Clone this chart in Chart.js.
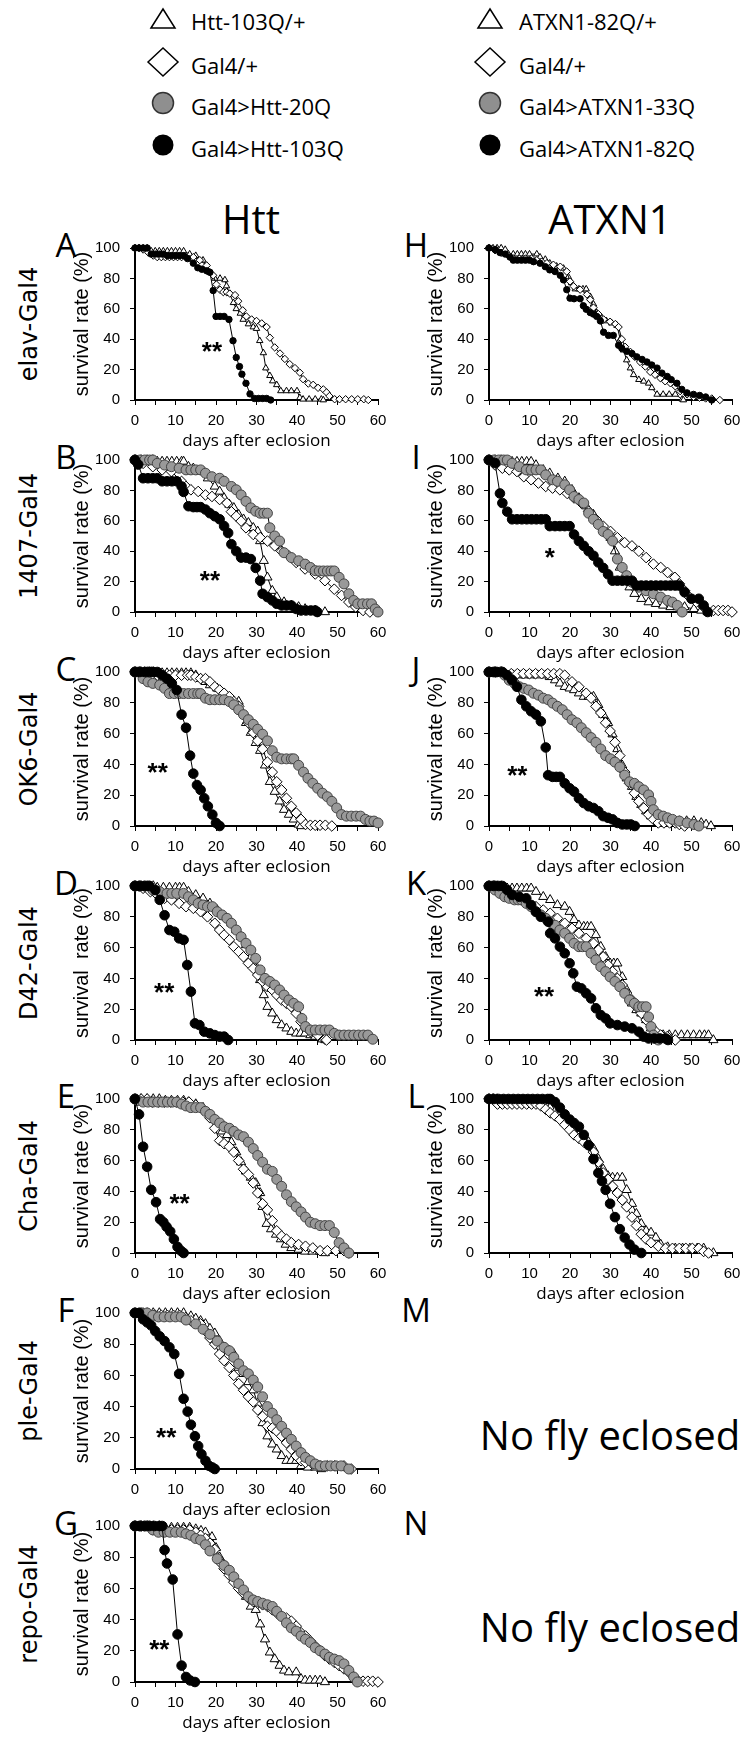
<!DOCTYPE html>
<html>
<head>
<meta charset="utf-8">
<script src="https://cdn.jsdelivr.net/npm/chart.js@4.4.1/dist/chart.umd.min.js"></script>
<style>
  body { margin: 0; background: #fff; }
  #page { position: relative; width: 750px; height: 1737px; overflow: hidden; background: #fff; color: #000; }
  .t { position: absolute; line-height: 1; white-space: pre; }
  canvas { position: absolute; }
  svg { position: absolute; overflow: visible; }
</style>
</head>
<body>
<div id="page"></div>
<script>
// survival data, [day, % alive]
// Htt column (left)
const A_tri = [[0,100],[1,100],[2,100],[3,100],[4,98],[5,98],[6,98],[7,98],[8,98],[9,98],[10,98],[11,98],[12,98],[13.5,96],[15,95],[16.8,92],[18.5,84],[19.7,80],[21,80],[22.2,79],[22.6,75],[23.4,70],[24.3,64],[25,60],[26,57],[26.7,53],[28,50],[29.2,48],[30,47],[30.8,39],[31.7,31],[32.3,21],[33.3,16],[34,12.5],[35,10],[36,6],[37.4,6],[38.6,6],[40,6],[40.7,1.5],[41.5,0.5],[43,0.5],[44.5,0.5],[46,0.5],[46.5,0]];
const A_dia = [[0,100],[1,100],[2,99],[3.3,97],[4.5,95],[5.5,94],[6.5,94],[7.5,94],[8.5,94],[9.5,94],[10.5,94],[11.5,94],[12.5,94],[14.4,94],[16,92],[17.7,88.5],[19.3,82],[20.1,76],[21,72.5],[21.8,71],[22.6,71],[23.4,70],[24.7,69],[25.5,65],[26.6,59],[27.5,55],[28.8,53],[30,52],[31.3,50.4],[32.5,48],[33.3,41],[34.5,34.6],[35.8,30.6],[37,27],[38.2,23.6],[39.5,21],[40.7,18],[41.5,13.7],[42.8,10.8],[44,10],[45.2,8],[46.5,7],[47.3,5],[48,2.6],[49.3,0.5],[50.5,0.5],[52,0.5],[53.5,0.5],[55,0.5],[56.5,0.5],[57.6,0]];
const A_black = [[0,100],[1,100],[2,100],[3,100],[4,96],[5,96],[6,96],[7,96],[8,95],[9,95],[10,95],[11,95],[12,95],[13,93],[14.4,90],[15.5,87],[16.5,86],[17.7,85],[18.5,84],[19.3,72],[20,55],[21,55],[22,55],[23.2,53],[24.2,39],[25,28],[25.8,22],[26.4,17],[27.4,11],[28.4,4],[29.5,1],[30.5,1],[31.5,1],[32.5,1],[33.5,0]];

const B_tri = [[0,100],[1.5,100],[3,100],[4.4,100],[5.5,99],[6.7,99],[7.9,99],[9.1,99],[10.3,99],[11.5,99],[12,99],[13.2,95.6],[14.4,94.5],[16.2,92.4],[18,88],[19.7,82.6],[20.9,79.3],[22,75],[23.3,70.7],[24.4,68.5],[25.6,64],[26.8,61],[28,58.7],[29.2,55.4],[30.3,53],[30.9,46.7],[31.8,33.7],[32.7,22.8],[33.9,14],[35,9.8],[36.8,6.5],[38.6,4.3],[40.4,3.3],[42,2],[44.5,1],[46.9,0]];
const B_dia = [[0,100],[2,97.8],[4.4,95.6],[6.7,93.5],[9,92.4],[11.5,85.9],[12.6,82.6],[13.8,80.4],[15.6,79.3],[17.4,77],[19,76],[20.9,74],[22.7,71.7],[23.8,66],[25,63],[26.2,59.8],[27.4,55.4],[29.2,51],[30.9,49],[32.7,46.7],[34.5,43.5],[36.2,40],[38,37],[39.8,32.6],[42,28.3],[44.5,25],[46.9,20.6],[49.2,15],[51,10.9],[52.8,6.5],[54.5,3.3],[56.3,1],[58,0]];
const B_gray = [[0,100],[1.2,100],[2.4,100],[3.6,100],[4.4,100],[5.5,97.8],[7.3,96.7],[9,95.6],[10.9,94.6],[12.6,93.5],[13.8,93.5],[15,93.5],[16.2,93.5],[17.4,91.3],[19,89],[20.9,88],[22,86],[23.8,82.6],[25,80.4],[26.2,77],[27.4,72.8],[28.6,68.5],[29.8,66.3],[30.9,65],[31.8,65],[32.7,65],[33.3,55.4],[34.5,50],[35.7,46.7],[36.8,39],[38.6,35.8],[40.4,33.7],[42,31.5],[43.3,29.3],[44.5,27.2],[45.5,27],[46.5,27],[47.5,27],[48.4,27],[49.2,27],[50.4,22.8],[51.6,18.5],[52.8,12],[54,7.6],[55,5.4],[56.2,5.4],[57.4,5.4],[58.4,5.4],[59.3,2],[60,0]];
const B_black = [[0,100],[0.8,97],[2,88],[3.2,88],[4.4,88],[5.5,88],[6.7,86],[7.9,86],[9.1,86],[10.3,86],[11.5,82.6],[12,79],[13.2,69.6],[14.4,69],[15.3,69],[16.2,69],[17.4,67.4],[18.5,65],[19.7,63],[20.9,61],[22,56.5],[23,52],[23.8,44.6],[25,40],[26.2,35.8],[27.4,35.8],[28.6,34.8],[29.8,29],[30.9,20.6],[31.5,12],[32.7,9.8],[33.9,7.6],[35,5.4],[36.2,4.3],[37.4,4.3],[38.6,4.3],[39.8,2],[41,1],[42.2,1],[43.4,1],[44.5,1],[45,0]];

const C_tri = [[0,100],[1.2,100],[2.4,100],[3.5,100],[4.5,100],[5.5,99.3],[6.7,99.3],[7.9,99.3],[9.1,99.3],[10.3,99.3],[11.5,99.3],[12.6,99.3],[13.8,99.3],[15,97.9],[16.2,95.7],[17.4,93.6],[18.5,91.5],[20.3,89.4],[21.5,86],[22.7,80.8],[23.6,80.8],[24.4,80.8],[25.6,80.8],[26.2,74.5],[27.4,67],[28.6,60.6],[29.8,54],[30.9,48.9],[32.1,39.4],[33.3,28.7],[34.5,22.3],[35.7,16],[36.8,10.6],[38,7.4],[39.2,4.3],[40.4,1],[41,0]];
const C_dia = [[0,100],[1.5,100],[3,100],[4,100],[5.5,97.9],[7,97.9],[8.5,97.9],[10,97.9],[11.5,97.9],[13,97.9],[13.8,97.9],[15,96.8],[16.2,95.7],[17.4,95.7],[18.5,93.6],[19.7,90.4],[20.9,88.3],[22,86.2],[23.3,84],[24.4,80.8],[25.6,77.7],[26.8,72.3],[28,67],[29.2,60.6],[30.3,55.3],[31.5,50],[32.7,41.5],[33.9,35],[35,28.7],[36.2,23.4],[37.4,18],[38.6,12.8],[39.8,8.5],[41,4.3],[42.1,1],[43.3,0.5],[44.5,0.5],[45.7,0.5],[47,0.5],[48.6,0]];
const C_gray = [[0,100],[1,100],[2,95.7],[3.2,93.6],[4.4,92.6],[6.1,91.5],[7.3,89.4],[8.5,86],[9.7,86],[10.9,86],[12,86],[13.2,86],[14.4,86],[15.5,86],[16.2,86],[17.4,83],[18.5,82],[19.7,82],[20.9,82],[22,82],[23.3,80.8],[24.4,78.7],[25.6,75.5],[26.8,72.3],[28,69],[29.2,66],[30.3,62.8],[31.5,59.6],[32.7,55.3],[33.9,48.9],[35,44.7],[36.2,43.6],[37.4,43.6],[38.6,43.6],[39.2,43.6],[40.4,39.4],[41.6,35],[42.7,31],[43.9,27.7],[45.1,24.5],[46.3,21.3],[47.5,19],[48.6,16],[49.8,11.7],[51,7.4],[52.2,6.4],[53.4,6.4],[54.6,6.4],[55.7,6.4],[56.9,4.3],[58,3.2],[59,3.2],[60,2]];
const C_black = [[0,100],[1.2,100],[2.4,100],[3.5,100],[4.5,100],[5.5,100],[6.7,97.9],[7.9,95.7],[9.1,92.6],[10.3,88.3],[11.5,72.3],[12.6,63.8],[13.6,45.7],[14.4,34],[15.3,26.6],[16.2,23.4],[17.1,18],[18,12.8],[19.1,7.4],[20,2],[20.9,0]];

const D_tri = [[0,100],[1.5,100],[3,100],[4.5,100],[5.5,99],[7,99],[8.5,99],[10,99],[11,99],[12,99],[13.2,96.3],[15,94.2],[16.8,92],[18.5,88.7],[20.3,84.4],[22,80],[23.8,75.8],[25,71.4],[26.2,67],[27.4,61.7],[28.6,54],[29.8,46.5],[30.9,39],[31.8,29.2],[32.7,21.6],[33.9,17.3],[35,13],[36.2,9.7],[37.4,7.6],[38.6,5.4],[39.8,4.3],[40.9,4.3],[42,4.3],[43.3,3.2],[44.5,2.2],[46.3,0.5],[47,0]];
const D_dia = [[0,100],[1,100],[2,98.5],[3.8,96.3],[5.5,94.2],[7.3,92],[9,91],[10.9,88.7],[12.6,86.6],[14.4,85.5],[16.2,83.3],[17.9,80],[19.7,75.8],[20.9,71.4],[22,68.2],[23.3,65],[24.4,60.6],[25.6,57.4],[26.8,54],[28,49.8],[29.2,46.5],[30.3,42.2],[31.5,38],[32.7,34.6],[33.9,32.5],[35,29.2],[36.2,26],[37.4,23.8],[38.6,21.6],[39.8,17.3],[41,11.9],[42.1,8.7],[43.3,5.4],[45.1,3.2],[46.9,0.5],[47.3,0]];
const D_gray = [[0,100],[1.2,100],[2.4,100],[3.5,100],[4.4,97.4],[6.1,96.3],[7.9,95.2],[9.1,95.2],[10.3,95.2],[12,95.2],[13.2,93],[14.4,91],[15.6,88.7],[16.8,87.7],[17.9,86.6],[19.1,86.6],[20.3,83.3],[21.5,81.2],[22.7,79],[23.8,75.8],[25,71.4],[26.2,67],[27.4,62.8],[28.6,58.4],[29.8,53],[30.9,45.5],[32.1,40],[33.3,38],[34.5,35.7],[35.7,32.5],[36.8,29.2],[38,26],[39.2,23.8],[40.4,21.6],[41.2,14],[42.1,8.7],[43.3,6.5],[44.5,6.5],[45.7,6.5],[46.9,6.5],[48,6.5],[49.2,4.3],[50.4,3.2],[51.6,3.2],[52.8,3.2],[54,3.2],[55.2,3.2],[56.4,3.2],[57.5,3.2],[58.7,0.5]];
const D_black = [[0,100],[1.2,100],[2.4,100],[3.5,100],[5,97.4],[6.1,91],[7.3,81],[8.5,71.4],[9.7,70.3],[10.9,66],[12,65],[12.9,48.7],[13.8,31.4],[14.8,10.8],[15.9,9.7],[17.1,5.4],[18.5,4.3],[19.7,3.2],[20.9,2.2],[22,2.2],[23,0]];

const E_tri = [[0,100],[1.5,100],[3,100],[4.5,100],[6,100],[7.5,99],[9,99],[10.5,99],[12,99],[13.2,98],[15,96.7],[16.8,94.4],[18.5,90],[20.3,83.3],[21.5,79],[22.7,76.7],[23.8,72],[25,65.5],[26.2,59],[27.4,53],[28.6,49],[29.8,45.5],[30.9,39],[31.5,30],[32.5,19],[33.6,15.5],[34.8,12],[36,9],[37.2,5.5],[38.6,3.3],[40.4,2.2],[42,1],[43.8,1],[45.7,1],[46.9,0]];
const E_dia = [[0,100],[1.5,100],[3,100],[4.3,98],[5.8,98],[7.3,98],[8.8,98],[10.3,98],[11.8,98],[13.3,98],[15,96],[16.8,93],[18.5,87.8],[19.7,81],[20.9,73],[22,71],[23.3,69],[24.4,65.5],[25.6,60],[26.8,54.4],[28,51],[29.2,45.5],[30.3,39],[31.5,32],[32.7,28],[33.9,21],[35,14.4],[36.2,11],[37.4,9],[38.6,6.7],[40.4,5.5],[42.1,4.4],[43.9,3.3],[45.7,1.5],[47.5,1.5],[49.6,1.5],[51.6,1.5],[52.8,0]];
const E_gray = [[0,100],[0.8,99],[2,98],[3.2,98],[4.4,98],[5.6,98],[6.8,98],[8,98],[9.2,98],[10.3,98],[11.5,96.7],[12.6,95.5],[13.8,94.4],[15,94.4],[16.2,94.4],[17.4,92],[18.5,90],[19.7,86.7],[20.9,84.4],[22,82],[23.3,81],[24.4,79],[25.6,76.7],[26.8,75.5],[28,72],[29.2,67.8],[30.3,63.3],[31.5,59],[32.7,54.4],[33.9,53],[35,47.8],[36.2,43.3],[37.4,37.8],[38.6,33.3],[39.8,30],[41,26.7],[42.1,23.3],[43.3,20],[44.5,19],[45.7,17.8],[46.9,17.8],[48,17.8],[49.2,13.3],[50.4,6.7],[51.6,3.3],[52.8,0]];
const E_black = [[0,100],[1,90],[2,69],[3,56],[4,41],[5.2,33],[6.2,22],[7,20],[7.8,17],[8.7,14],[9.6,9],[10.5,4],[11.3,1.5],[12,0]];

const F_tri = [[0,100],[1.5,100],[3,100],[4.5,100],[6,100],[7.5,100],[9,100],[10.5,100],[12,100],[13.8,98],[15,96.5],[16.2,95],[17.4,93],[18.5,90],[19.7,87],[20.9,82],[22,78],[23.3,76],[24.4,73.7],[25.6,65],[26.8,61],[28,55.8],[29.2,50.5],[30.3,42],[31.5,29.5],[32.7,21],[33.9,15.8],[35,12.6],[36.2,8.4],[37.4,5.3],[38.6,5.3],[39.8,5.3],[41,2],[42.7,1],[44.5,1],[46,0]];
const F_dia = [[0,100],[1,100],[2,100],[3.5,98.5],[5,98.5],[6.5,98.5],[8,98.5],[9.5,98.5],[11,98.5],[12.5,97],[13.8,95],[16.2,93],[17.4,88.4],[18.5,84],[19.7,80],[20.9,73.7],[22,69.5],[23.3,65],[24.4,60],[25.6,54.7],[26.8,50.5],[28,46.3],[29.2,43],[30.3,37.9],[31.5,33.7],[32.7,27.4],[33.9,26.3],[35,24.2],[36.2,21],[37.4,16.8],[38.6,12.6],[39.8,8.4],[41,5.3],[42.1,4.2],[43.9,3.2],[45.7,2],[47.5,2],[49.3,2],[51.6,2],[53.4,0]];
const F_gray = [[0,100],[1.5,100],[3,100],[4.4,98.5],[5.8,97.5],[7.2,97.5],[8.6,97.5],[10,97.5],[11.4,97.5],[12.6,95.5],[15,93],[16.8,89.6],[18.5,86.3],[20.3,82],[22,78],[23.3,75.8],[24.4,71.6],[25.6,67.4],[26.8,63],[28,61],[29.2,57],[30.3,52.6],[31.5,46.3],[32.7,40],[33.9,35.8],[35,31.6],[36.2,27.4],[37.4,23],[38.6,19],[39.8,14.7],[41,10.5],[42.1,7.4],[43.3,5.3],[44.5,3.2],[45.7,2],[47,2],[48.3,2],[49.6,2],[50.9,2],[52.8,0]];
const F_black = [[0,100],[1,100],[2,96],[3,94],[4,92],[5,88.4],[6.1,85],[7.3,82],[8.5,78],[9.7,73.7],[10.9,61],[12,45],[13,36.8],[13.8,28.4],[14.8,21],[15.6,14.7],[16.4,9.5],[17.4,5.3],[18.3,2],[19.1,1],[19.7,0]];

const G_tri = [[0,100],[1.5,100],[3,100],[4.5,100],[6,100],[7.5,99],[9,99],[10.5,99],[12,99],[13.5,99],[15,98],[16.3,97],[17.4,96],[19,93],[20,86],[20.9,80],[21.5,77],[22.7,73.7],[23.8,69.5],[25,65],[26.2,61],[27.4,54.7],[28.6,48.4],[29.8,46.3],[30.9,37],[32.1,27.4],[33.3,19],[34.5,14.7],[35.7,10.5],[36.8,7.4],[38,6.3],[39.8,6.3],[41,2],[42,1],[43.2,1],[44.5,1],[45.7,1],[46.9,0]];
const G_dia = [[0,100],[1.5,100],[3,100],[4.4,97.5],[6,97.5],[7.5,97.5],[9,97.5],[10.5,97.5],[12,97.5],[13.5,97.5],[15,96],[16.2,94],[17.4,92],[18.5,89],[19.7,85],[20.9,77],[22,72.6],[23.3,68.4],[24.4,64],[25.6,60],[26.8,56.8],[28,53.7],[29.2,51.6],[30.3,50.5],[31.5,49.5],[32.7,48.4],[33.9,46.3],[35,44.2],[36.2,42],[37.4,41],[38.6,39],[39.8,35.8],[41,31.6],[42.1,29.5],[43.3,26.3],[44.5,23],[45.7,20],[46.9,16.8],[48,14.7],[49.2,12.6],[50.4,10.5],[51.6,8.4],[52.8,6.3],[54,3.2],[55,1],[56.3,0.5],[57.5,0.5],[58.7,0.5],[60,0]];
const G_gray = [[0,100],[1.2,100],[2.4,100],[3.5,100],[4.4,97.5],[5.8,96],[7.2,96],[8.6,96],[10,96],[11.4,96],[12.6,95],[13.8,94],[15,92],[16.2,91],[17.4,88],[18.5,84],[20.3,79],[22,74.7],[23.3,71.6],[24.4,67.4],[25.6,63],[26.8,59],[28,54.7],[29.2,52.6],[30.3,51.6],[31.5,50.5],[32.7,49.5],[33.9,48.4],[35,45.3],[36.2,42],[37.4,37.9],[38.6,34.7],[39.8,32.6],[41,29.5],[42.1,27.4],[43.3,25.3],[44.5,22],[45.7,20],[46.9,17.9],[48,15.8],[49.2,14.7],[50.4,13.7],[51.6,11.6],[52.8,7.4],[54,3.2],[54.9,0]];
const G_black = [[0,100],[1.2,100],[2.4,100],[3.6,100],[4.8,100],[6,100],[6.7,100],[7.3,84.6],[7.9,76],[9.3,65.7],[10.5,30.5],[11.5,10.5],[12.6,3.2],[13.6,1],[14.8,0]];

// ATXN1 column (right)
const H_tri = [[0,100],[1,100],[2,100],[3,100],[4,99],[4.8,96],[6,96],[7,96],[8,96],[9,96],[10,96],[11.8,96],[12.6,94],[13.9,92.5],[15,90],[16.7,88],[18.4,86.6],[19.6,81],[20.4,77],[21.3,73],[22.2,73],[23.2,73],[24,73],[25,68],[25.8,63],[26.6,57.5],[27.9,54],[29,52],[30.3,50.6],[31.6,49],[32.4,40],[33.2,32.8],[34,26.3],[34.9,21],[35.7,16.6],[37,13.4],[38.2,12.3],[39.4,11],[40.2,8],[41.5,3.7],[43,3.7],[44.5,3.7],[46,3.7],[47.7,0.5],[48,0]];
const H_dia = [[0,100],[1.5,98.5],[3,96.8],[4.8,95],[6,93],[7.5,93],[9,93],[10.5,93],[11.8,92],[13,91],[14.3,90],[15.9,89],[17.6,87.7],[19.2,84.5],[20,78],[20.9,74.8],[22.5,72.6],[24.2,69.4],[25,66],[25.8,60.8],[27,56.5],[28.3,53],[29.9,51.5],[31.2,50],[32,48],[32.8,40],[33.6,35],[34.9,31.7],[36,28.4],[37.3,25],[38.6,22],[39.8,18.5],[41,16.6],[42.3,14.4],[43.5,12.3],[44.8,11],[46,9],[47.2,5.8],[48.9,3.7],[50.5,2],[52,1.5],[53.5,1],[55,1],[57,0]];
const H_black = [[0,100],[1.5,99],[2.7,97],[4,96],[5.2,94],[6,92],[7,92],[8,92],[9,92],[10,92],[11,91],[12.6,90],[13.9,87.7],[15,85.6],[16.3,84.5],[17.6,82],[18.4,79],[19.2,72.6],[20,67],[21,66.6],[22.5,66.6],[23.3,62],[24,59.7],[25,57.5],[25.8,56.5],[26.6,55],[27.5,52],[28.3,44.6],[29.5,42.5],[30.7,42.5],[32,36],[32.8,34],[34,32],[35.3,30.6],[36.5,28.4],[37.8,26.7],[39,25],[40.2,23],[41.5,21],[42.7,17.7],[44,15.5],[45,13.4],[46.4,11],[47.6,7],[48.9,4.7],[50.5,3.7],[52,3],[53.5,2],[55,0]];

const I_tri = [[0,100],[1.5,100],[3,100],[4.5,98.9],[5.7,98.9],[6.9,98.9],[8.1,98.9],[9.3,98.9],[10.4,98.9],[11.6,96.7],[13.4,93.5],[15,91.3],[17,88],[18.7,85.9],[20.5,80.4],[22.2,75],[24,69.6],[25.8,64],[27.6,57.6],[28.8,53],[30,48.9],[31.1,40],[32.3,29.3],[33.5,22.8],[34.7,16.3],[35.9,12],[37.6,8.7],[39.4,6.5],[41.2,5.4],[43,4.3],[44.8,3.3],[46.5,3.3],[48.3,3.3],[50.6,2],[52.4,1],[54,0]];
const I_dia = [[0,100],[1.5,96.7],[3.3,94.6],[5,93.5],[6.9,92.4],[8.6,89],[10.4,87],[12.2,84.8],[14,82.6],[15.7,81.5],[17.5,80.4],[19.3,78],[21,75],[22.8,71.7],[24.6,66.3],[26.4,61],[28.2,56.5],[30,53],[31.7,48.9],[33.5,45.6],[35.3,43.5],[37,40],[38.8,35.8],[40.6,31.5],[42.4,29.3],[44.1,26],[45.9,22.8],[47,18.5],[48.3,14],[49.5,9.8],[51.2,6.5],[53,3.3],[55.4,1],[56.6,1],[57.8,1],[59,1],[60,0]];
const I_gray = [[0,100],[1.2,100],[2.4,100],[3.6,100],[4.5,100],[5.7,97.8],[7.5,95.6],[9.2,93.5],[10.4,93.5],[11.6,93.5],[12.8,93.5],[14,90.2],[15.7,87],[16.9,86],[18.7,83.7],[19.9,80.4],[21,76],[22.2,74],[23.4,71.7],[24.6,65],[25.8,61],[27,57.6],[28.2,53],[29.4,51],[30.5,46.7],[31.7,34.8],[32.9,29.3],[34,23.9],[35.3,19.6],[37,16.3],[38.8,14],[40.6,12],[42.4,9.8],[44.1,7.6],[45.3,6.5],[46.5,4.3],[47.7,0]];
const I_black = [[0,100],[1.5,98],[2.7,78],[3.3,71.7],[4.5,66],[5.7,61],[6.9,61],[8.1,61],[9.3,61],[10.5,61],[11.7,61],[12.9,61],[14,61],[15,56.5],[16.3,56.5],[17.5,56.5],[18.7,56.5],[19.9,56.5],[21,51],[22.2,46.7],[23.4,43.5],[24.6,40],[25.8,37],[27,32.6],[28.2,29],[29.4,24.8],[30.5,20.6],[31.7,20.6],[32.9,20.6],[34.1,20.6],[35.3,20.6],[36.4,17.4],[37.6,17.4],[38.8,17.4],[40,17.4],[41.2,17.4],[42.4,17.4],[43.6,17.4],[44.8,17.4],[46,17.4],[47,17.4],[48.3,13],[50,8.7],[51.8,8.7],[53,4.3],[54,0]];

const J_tri = [[0,100],[1.5,100],[3,100],[4.5,97.9],[6,97.9],[7.5,97.9],[9,97.9],[10.5,97.9],[12,97.9],[14,97.9],[15,96.8],[16.3,94.7],[17.5,92.6],[18.7,90.4],[19.9,89.4],[21,88.3],[22.2,86.2],[23.4,84],[24.6,84],[25.8,84],[27,78.7],[28.2,72.3],[29.4,67],[30.5,59.6],[31.7,50],[32.9,39.4],[34,31],[35.3,25.5],[36.4,19],[37.6,13.8],[38.8,9.6],[40,6.4],[41.8,4.3],[43.6,3.2],[45.2,3.2],[47,3.2],[48.8,3.2],[50.6,3.2],[52.4,2],[53.6,1],[54.8,0]];
const J_dia = [[0,100],[1.5,100],[3,100],[3.9,98.9],[5.5,98.9],[7,98.9],[8.5,98.9],[10,98.9],[11.5,98.9],[13,98.9],[14.5,98.9],[16,98.9],[17.5,98.9],[18.7,97.9],[20.5,93.6],[22.2,90.4],[24,86.2],[25.2,83],[26.4,77.7],[27.6,73.4],[28.8,67],[29.9,61.7],[31.1,54.3],[32.3,45.7],[33.5,35],[34.7,27.7],[35.9,21.3],[37,16],[38.2,11.7],[39.4,7.4],[40.6,4.3],[41.8,2],[43.2,2],[44.6,2],[46,2],[47,1],[48.3,0]];
const J_gray = [[0,100],[1.5,100],[3,100],[3.9,97.9],[5,94.7],[6.3,92.6],[7.5,90.4],[8.6,89.4],[9.8,88.3],[11,86.2],[12.2,85],[13.4,83],[14.6,82],[15.7,79.8],[16.9,77.7],[18.1,75.5],[19.3,72.3],[20.5,69],[21.7,67],[22.8,63.8],[24,60.6],[25.2,57.4],[26.4,54.3],[27.6,50],[28.8,45.7],[30,43.6],[31.1,41.5],[32.3,38.3],[33.5,33],[34.7,28.7],[35.9,27.7],[37,25.5],[38.2,23.4],[39.4,20.2],[40,16],[40.6,10.6],[41.8,7.4],[43,6.4],[44.1,5.3],[45.3,4.3],[47,3.2],[48.9,2],[50.6,1],[51.8,0]];
const J_black = [[0,100],[1,100],[2,100],[3.3,100],[4.5,97.9],[5.7,94.7],[6.9,90.4],[8,82],[9.2,77.7],[10.4,74.5],[11.6,72.3],[12.8,68],[14,51],[14.6,33],[15.7,31.9],[16.6,31.9],[17.5,31.9],[18.7,27.7],[19.9,24.5],[21,22.3],[22.2,18],[23.4,14.9],[24.6,12.8],[25.8,11.7],[27,9.6],[28.2,6.4],[29.4,5.3],[30.5,4.3],[31.7,2],[32.9,1],[34,1],[35,1],[36,0]];

const K_tri = [[0,100],[1.5,100],[3,100],[4.5,98.5],[5.7,98.5],[6.9,98.5],[8.1,98.5],[9.3,98.5],[10.4,98.5],[11.6,96.3],[13.4,93],[15.1,91],[16.9,87.7],[18.7,86.6],[19.9,83.3],[21,78],[22.2,74.5],[23.4,73.6],[24.3,73.6],[25.2,73.6],[26.4,68.2],[27.6,60.6],[28.8,54],[29.9,49.8],[30.8,49.8],[31.7,49.8],[32.9,41],[34,32.5],[35.3,23.8],[36.4,19.5],[37.6,17.3],[38.8,13],[40,7.6],[41.2,4.3],[43,3.2],[44.5,3.2],[46,3.2],[47.5,3.2],[49,3.2],[50.5,3.2],[52,3.2],[53.2,3.2],[54.2,3.2],[55.4,0]];
const K_dia = [[0,100],[1.2,100],[2,100],[2.7,97.4],[4.5,95.2],[6.3,93],[8,91],[9.8,88.7],[11.6,86.6],[13.4,84.4],[15.1,82.3],[16.9,79],[18.7,75.8],[20.5,72.5],[22.2,69.3],[24,66],[25.8,62.8],[27,58.4],[28.2,54],[29.4,48.7],[30.5,44.4],[31.7,40],[32.9,35.7],[34,30.3],[35.3,26],[36.4,21.6],[37.6,17.3],[38.8,13],[40,8.7],[41.2,5.4],[42.4,3.2],[44,2.2],[46,0]];
const K_gray = [[0,100],[1,100],[1.5,97.4],[2.7,95.2],[3.9,93],[5,92],[6.3,91],[7.2,91],[8,91],[9.2,88.7],[10.4,86.6],[11.6,83.3],[12.8,81.2],[14,79],[15.1,76.8],[16.3,74.5],[17.5,71.4],[18.7,69.3],[19.9,66],[21,62.8],[22.2,60.6],[23.1,60.6],[24,60.6],[25.2,56.3],[26.4,52],[27.6,47.6],[28.8,44.4],[29.9,41],[31.1,38],[32.3,34.6],[33.5,30.3],[34.7,26],[35.9,23.8],[37,21.6],[37.9,21.6],[38.8,21.6],[39.4,15],[40,8.7],[40.6,3.2],[41.8,0]];
const K_black = [[0,100],[1.2,100],[2.4,100],[3.3,100],[4.5,97.4],[5.7,94.2],[7.5,93],[9.2,92],[10.4,87.7],[11.6,83.3],[12.8,80],[14.6,76.8],[15.1,69.3],[16.3,66],[17.5,60.6],[18.7,56.3],[19.9,49.8],[20.8,43.3],[21.7,34.6],[22.8,33.5],[24,30.3],[25.2,27],[26.4,20.6],[27.6,16.2],[28.8,14],[29.9,10.8],[31.7,9.7],[33.5,8.7],[35.3,7.6],[37,5.4],[38.2,2.2],[39.4,1],[40.8,1],[42.2,1],[43.6,1],[44.2,0]];

const L_tri = [[0,100],[1,100],[2,100],[3.3,98],[4.5,98],[5.7,98],[6.9,98],[8.1,98],[9.3,98],[10.5,98],[11.7,98],[12.8,98],[14,96.7],[15.1,94.4],[16.3,92],[17.5,90],[19.3,85.5],[21,81],[22.2,76.7],[23.4,74.4],[24.6,72],[25.8,67.8],[27,61],[28.2,54.4],[29.4,50],[30.5,49],[31.7,49],[32.9,49],[34,41],[35.3,32],[36.4,25.5],[37.6,19],[38.8,14.4],[40,13.3],[41.2,10],[42.4,5.5],[44.1,3.8],[46,3],[47.8,3],[49.6,3],[51.4,3],[53,3],[55.4,0]];
const L_dia = [[0,100],[1,100],[2.1,96.7],[3.3,96.7],[4.5,96.7],[5.7,96.7],[6.9,96.7],[8.1,96.7],[9.3,96.7],[10.5,96.7],[11.6,96.7],[12.8,95.5],[14,93.3],[15.1,91],[16.3,89],[17.5,86.7],[18.7,83.3],[19.9,80],[21,76.7],[22.2,74.4],[23.4,72],[24.6,70],[25.8,65.5],[27,59],[28.2,52],[29.4,47.8],[30.5,43.3],[31.7,39],[32.9,34.4],[34,30],[35.3,23.3],[36.4,17.8],[37.6,12.2],[38.8,9],[40,6.7],[41.8,4.4],[43.6,3],[45.3,3],[47,3],[48.6,3],[50.2,3],[51.8,3],[53,1],[54.2,0]];
const L_black = [[0,100],[1.2,100],[2.4,100],[3.6,100],[4.8,100],[6,100],[7.2,100],[8.4,100],[9.6,100],[10.8,100],[12,100],[13.2,100],[14.5,100],[15.1,100],[16.3,98],[17.5,94.4],[18.7,90],[19.9,86.7],[21,84.4],[22.2,82],[23.4,76.7],[24.6,70],[25.8,61],[27,52],[27.9,46.7],[28.8,41],[29.9,32],[31.1,23.3],[32.3,15.5],[33.5,10],[34.7,5.5],[35.9,2.2],[37.6,0]];

// significance marks: text, day, %
const starMark = { A: '**', B: '**', C: '**', D: '**', E: '**', F: '**', G: '**', I: '*', J: '**', K: '**' };
const starDay  = { A: 19, B: 18.5, C: 5.6, D: 7.2, E: 11, F: 7.7, G: 6, I: 15, J: 7, K: 13.6 };
const starPct  = { A: 35, B: 24, C: 37.5, D: 34, E: 35, F: 23, G: 24, I: 39, J: 36, K: 31 };

const driverNames = ['elav-Gal4', '1407-Gal4', 'OK6-Gal4', 'D42-Gal4', 'Cha-Gal4', 'ple-Gal4', 'repo-Gal4'];
const legendHtt = ['Htt-103Q/+', 'Gal4/+', 'Gal4>Htt-20Q', 'Gal4>Htt-103Q'];
const legendAtx = ['ATXN1-82Q/+', 'Gal4/+', 'Gal4>ATXN1-33Q', 'Gal4>ATXN1-82Q'];

// layout (px)
const rowTop = [248, 460, 672, 886, 1099, 1313, 1526];
const rowBottom = [400, 612, 826, 1040, 1253, 1469, 1682];
const colLeft = [135, 489];
const plotW = 243;

const panels = [
  { id: 'A', col: 0, row: 0, tri: A_tri, dia: A_dia, gray: null, black: A_black, small: true },
  { id: 'B', col: 0, row: 1, tri: B_tri, dia: B_dia, gray: B_gray, black: B_black },
  { id: 'C', col: 0, row: 2, tri: C_tri, dia: C_dia, gray: C_gray, black: C_black },
  { id: 'D', col: 0, row: 3, tri: D_tri, dia: D_dia, gray: D_gray, black: D_black },
  { id: 'E', col: 0, row: 4, tri: E_tri, dia: E_dia, gray: E_gray, black: E_black },
  { id: 'F', col: 0, row: 5, tri: F_tri, dia: F_dia, gray: F_gray, black: F_black },
  { id: 'G', col: 0, row: 6, tri: G_tri, dia: G_dia, gray: G_gray, black: G_black },
  { id: 'H', col: 1, row: 0, tri: H_tri, dia: H_dia, gray: null, black: H_black, small: true },
  { id: 'I', col: 1, row: 1, tri: I_tri, dia: I_dia, gray: I_gray, black: I_black },
  { id: 'J', col: 1, row: 2, tri: J_tri, dia: J_dia, gray: J_gray, black: J_black },
  { id: 'K', col: 1, row: 3, tri: K_tri, dia: K_dia, gray: K_gray, black: K_black },
  { id: 'L', col: 1, row: 4, tri: L_tri, dia: L_dia, gray: null, black: L_black }
];

const page = document.getElementById('page');
const OPEN = '"Open Sans", sans-serif';
const ARIAL = '"Liberation Sans", Arial, sans-serif';

function text(s, x, base, size, fam, k, center) {
  const d = document.createElement('div');
  d.className = 't';
  d.textContent = s;
  d.style.font = size + 'px ' + fam;
  d.style.left = x + 'px';
  d.style.top = (base - k * size) + 'px';
  if (center) d.style.transform = 'translateX(-50%)';
  page.appendChild(d);
}

function marker(kind, cx, cy) {
  const shapes = {
    tri: '<polygon points="1,20 13,1 25,20" fill="#fff" stroke="#000" stroke-width="1.5"/>',
    dia: '<polygon points="1,15 16,1 31,15 16,29" fill="#fff" stroke="#000" stroke-width="1.5"/>',
    gray: '<circle cx="12" cy="11" r="10.5" fill="#8f8f8f" stroke="#333" stroke-width="1.5"/>',
    black: '<circle cx="12" cy="11" r="10.5" fill="#000"/>'
  };
  const dims = { tri: [26, 21], dia: [32, 30], gray: [24, 22], black: [24, 22] };
  const [w, h] = dims[kind];
  const s = document.createElementNS('http://www.w3.org/2000/svg', 'svg');
  s.setAttribute('width', w);
  s.setAttribute('height', h);
  s.style.left = (cx - w / 2) + 'px';
  s.style.top = (cy - h / 2) + 'px';
  s.innerHTML = shapes[kind];
  page.appendChild(s);
}

// legend
const legRows = [18, 62, 103, 145];
const kinds = ['tri', 'dia', 'gray', 'black'];
legRows.forEach((cy, i) => {
  marker(kinds[i], 163, cy);
  marker(kinds[i], 490, cy);
  text(legendHtt[i], 191, cy + 8, 22, OPEN, 0.888);
  text(legendAtx[i], 519, cy + 8, 22, OPEN, 0.888);
});

// column headings
text('Htt', 251, 227, 40, OPEN, 0.888, true);
text('ATXN1', 610, 227, 40, OPEN, 0.888, true);

// driver names down the left side
driverNames.forEach((name, r) => {
  const d = document.createElement('div');
  d.className = 't';
  d.textContent = name;
  d.style.font = '24px "DejaVu Sans", sans-serif';
  d.style.left = '29px';
  d.style.top = ((rowTop[r] + rowBottom[r]) / 2) + 'px';
  d.style.transform = 'translate(-50%,-50%) rotate(-90deg)';
  page.appendChild(d);
});

// panel letters
panels.forEach(p => text(p.id, p.col ? 416 : 66, rowTop[p.row] + 3, 33, OPEN, 0.888, true));
text('M', 416, rowTop[5] + 3, 33, OPEN, 0.888, true);
text('N', 416, rowTop[6] + 3, 33, OPEN, 0.888, true);
text('No fly eclosed', 610, 1443, 40, OPEN, 0.888, true);
text('No fly eclosed', 610, 1635, 40, OPEN, 0.888, true);

const starPlugin = {
  id: 'stars',
  afterDatasetsDraw(chart, args, opts) {
    if (!opts.text) return;
    const { ctx, scales: { x, y } } = chart;
    ctx.save();
    ctx.font = 'bold 26px ' + ARIAL;
    ctx.fillStyle = '#000';
    ctx.textAlign = 'center';
    ctx.textBaseline = 'middle';
    ctx.fillText(opts.text, x.getPixelForValue(opts.day), y.getPixelForValue(opts.pct) + 6);
    ctx.restore();
  }
};

function datasets(p) {
  const out = [];
  const add = (arr, st) => {
    if (!arr) return;
    out.push(Object.assign({
      data: arr.map(v => ({ x: v[0], y: v[1] })),
      showLine: true, borderColor: '#000', borderWidth: 1, clip: false, pointBorderWidth: 1
    }, st));
  };
  const r = p.small ? 3.4 : 5;
  add(p.black, { pointStyle: 'circle', pointRadius: p.small ? 3.2 : 4.8, pointBackgroundColor: '#000', pointBorderColor: '#000' });
  add(p.gray, { pointStyle: 'circle', pointRadius: 5, pointBackgroundColor: '#999', pointBorderColor: '#444' });
  add(p.dia, { pointStyle: 'rectRot', pointRadius: r + 0.3, pointBackgroundColor: '#fff', pointBorderColor: '#000' });
  add(p.tri, { pointStyle: 'triangle', pointRadius: r + 0.3, pointBackgroundColor: '#fff', pointBorderColor: '#000' });
  return out;
}

function config(p) {
  const tickFont = { family: ARIAL, size: 15 };
  const grid = { drawOnChartArea: false, drawTicks: true, tickLength: 5, color: '#000', lineWidth: 1 };
  const border = { display: true, color: '#000', width: 2 };
  return {
    type: 'scatter',
    data: { datasets: datasets(p) },
    options: {
      responsive: false, maintainAspectRatio: false, animation: false, devicePixelRatio: 1, events: [],
      layout: { padding: { left: 0, right: 17, top: 12, bottom: 0 } },
      plugins: {
        legend: { display: false },
        tooltip: { enabled: false },
        stars: { text: starMark[p.id], day: starDay[p.id], pct: starPct[p.id] }
      },
      scales: {
        x: {
          type: 'linear', min: 0, max: 60,
          afterFit: s => { s.height = 55; },
          ticks: { stepSize: 5, autoSkip: false, maxRotation: 0, padding: 7, color: '#000', font: tickFont,
                   callback: v => (v % 10 === 0 ? String(v) : '') },
          grid: grid, border: border,
          title: { display: true, text: 'days after eclosion', color: '#000', font: { family: OPEN, size: 17 }, padding: { top: 0, bottom: 4 } }
        },
        y: {
          min: 0, max: 100,
          afterFit: s => { s.width = 75; },
          ticks: { stepSize: 20, padding: 10, color: '#000', font: tickFont },
          grid: grid, border: border,
          title: { display: true, text: p.row === 3 ? 'survival  rate (%)' : 'survival rate (%)', color: '#000',
                   font: { family: ARIAL, size: 20 }, padding: { top: 10, bottom: 0 } }
        }
      }
    },
    plugins: [starPlugin]
  };
}

function mount(p) {
  const L = colLeft[p.col], T = rowTop[p.row];
  const H = rowBottom[p.row] - rowTop[p.row];
  const cv = document.createElement('canvas');
  page.appendChild(cv);
  let cw = 75 + plotW + 17, chh = 12 + H + 55;
  const size = () => {
    cv.width = cw; cv.height = chh;
    cv.style.width = cw + 'px'; cv.style.height = chh + 'px';
  };
  size();
  let ch = new Chart(cv, config(p));
  let a = ch.chartArea;
  const dw = Math.round(plotW - (a.right - a.left)), dh = Math.round(H - (a.bottom - a.top));
  if (dw !== 0 || dh !== 0) {
    ch.destroy();
    cw += dw; chh += dh;
    size();
    ch = new Chart(cv, config(p));
    a = ch.chartArea;
  }
  cv.style.left = (L - a.left) + 'px';
  cv.style.top = (T - a.top) + 'px';
}

panels.forEach(mount);
</script>
</body>
</html>
